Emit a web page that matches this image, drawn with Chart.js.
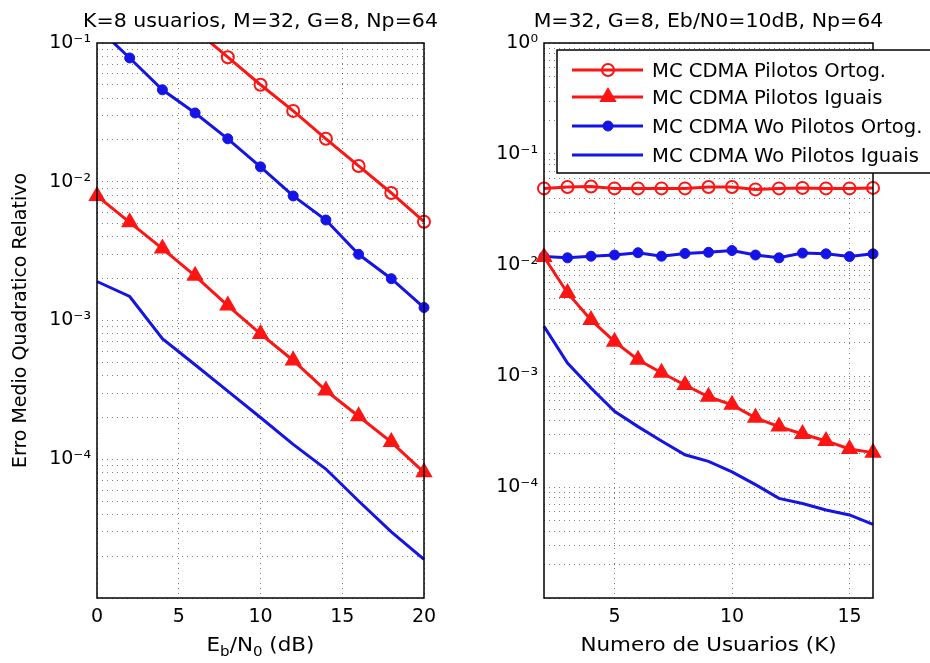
<!DOCTYPE html>
<html>
<head>
<meta charset="utf-8">
<script src="https://cdn.jsdelivr.net/npm/chart.js@4.4.1/dist/chart.umd.min.js"></script>
<style>
  body { margin: 0; background: #fff; }
  #wrap { position: relative; width: 930px; height: 663px; }
  canvas { position: absolute; top: 0; }
  #left { left: 0; }
  #right { left: 470px; }
</style>
</head>
<body>
<div id="wrap">
  <canvas id="left" width="470" height="663"></canvas>
  <canvas id="right" width="460" height="663"></canvas>
</div>
<script>
// ---- left panel: sweep of Eb/N0, K=8 users
var snrDb = [0, 2, 4, 6, 8, 10, 12, 14, 16, 18, 20];
var ortogSnr    = [null, null, null, 0.125, 0.079, 0.050, 0.0324, 0.0204, 0.0130, 0.0083, 0.00515];
var iguaisSnr   = [0.0079, 0.0051, 0.0033, 0.0021, 0.00128, 0.00080, 0.000515, 0.000313, 0.000204, 0.000133, 0.0000805];
var woOrtogSnr  = [0.13, 0.078, 0.046, 0.0313, 0.0204, 0.0128, 0.0079, 0.0053, 0.0030, 0.0020, 0.00124];
var woIguaisSnr = [0.00191, 0.00149, 0.00074, 0.00048, 0.00031, 0.00020, 0.000128, 0.000085, 0.00005, 0.00003, 0.000019];

// ---- right panel: sweep of number of users, Eb/N0=10dB
var users = [2, 3, 4, 5, 6, 7, 8, 9, 10, 11, 12, 13, 14, 15, 16];
var ortogK    = [0.049, 0.0505, 0.051, 0.049, 0.049, 0.049, 0.049, 0.0505, 0.0505, 0.048, 0.049, 0.0495, 0.049, 0.049, 0.0495];
var iguaisK   = [0.0118, 0.0056, 0.0032, 0.00204, 0.0014, 0.00107, 0.00083, 0.00065, 0.00055, 0.00042, 0.00035, 0.00030, 0.00026, 0.00022, 0.000204];
var woOrtogK  = [0.0119, 0.0116, 0.0120, 0.0123, 0.0129, 0.0120, 0.0127, 0.0130, 0.0135, 0.0123, 0.0116, 0.0128, 0.0126, 0.0119, 0.0126];
var woIguaisK = [0.0028, 0.00131, 0.00078, 0.00048, 0.00035, 0.00026, 0.000195, 0.00017, 0.000137, 0.000105, 0.000079, 0.000071, 0.000062, 0.000056, 0.000046];

// ---- axes
var leftDecades  = [1e-5, 1e-4, 1e-3, 1e-2, 1e-1];
var rightDecades = [1e-5, 1e-4, 1e-3, 1e-2, 1e-1, 1];
var snrTicks  = [0, 5, 10, 15, 20];
var userTicks = [5, 10, 15];

var labels = ['MC CDMA Pilotos Ortog.', 'MC CDMA Pilotos Iguais', 'MC CDMA Wo Pilotos Ortog.', 'MC CDMA Wo Pilotos Iguais'];

var RED = '#ff1414';
var BLUE = '#1414e6';
var FONT = 'DejaVu Sans';
var GRID = 'rgba(0,0,0,0.5)';

var styles = [
  { borderColor: RED, pointStyle: 'circle', pointRadius: 6, pointBorderWidth: 2, pointBackgroundColor: 'rgba(0,0,0,0)', pointBorderColor: RED },
  { borderColor: RED, pointStyle: 'triangle', pointRadius: 8, pointBorderWidth: 2, pointBackgroundColor: RED, pointBorderColor: RED },
  { borderColor: BLUE, pointStyle: 'circle', pointRadius: 5, pointBorderWidth: 1, pointBackgroundColor: BLUE, pointBorderColor: BLUE },
  { borderColor: BLUE, pointRadius: 0 }
];

function makeDatasets(xs, ysList) {
  return ysList.map(function (ys, i) {
    return Object.assign({
      label: labels[i],
      data: xs.map(function (x, j) { return { x: x, y: ys[j] }; }),
      borderWidth: 3,
      tension: 0,
      clip: { left: 12, right: 12, top: 0, bottom: 0 }
    }, styles[i]);
  });
}

function logTicks(decades) {
  var t = [];
  decades.forEach(function (d, i) {
    if (i === decades.length - 1) { t.push({ value: d }); return; }
    for (var m = 1; m < 10; m++) t.push({ value: m * d });
  });
  return t;
}

var sup = { '-': '\u207B', '0': '\u2070', '1': '\u00B9', '2': '\u00B2', '3': '\u00B3', '4': '\u2074', '5': '\u2075' };
// labels only on decades, the bottom one is left blank as in the figure
function powLabeller(decades) {
  return function (v) {
    var e = Math.log10(v);
    if (Math.abs(e - Math.round(e)) > 1e-6) return '';
    if (Math.abs(v - decades[0]) < decades[0] * 1e-6) return '';
    return '10' + String(Math.round(e)).split('').map(function (c) { return sup[c]; }).join('');
  };
}

// text stretched a bit horizontally, like the original figure
function wideText(ctx, parts, x, y, size, sx, align) {
  ctx.save();
  var w = 0;
  parts.forEach(function (p) { ctx.font = (p.sub ? size * 0.7 : size) + 'px "' + FONT + '"'; w += ctx.measureText(p.t).width; });
  ctx.translate(x, y);
  ctx.scale(sx, 1);
  var cx = align === 'center' ? -w / 2 : 0;
  ctx.fillStyle = '#000';
  ctx.textBaseline = 'alphabetic';
  ctx.textAlign = 'left';
  parts.forEach(function (p) {
    ctx.font = (p.sub ? size * 0.7 : size) + 'px "' + FONT + '"';
    ctx.fillText(p.t, cx, p.sub ? 5 : 0);
    cx += ctx.measureText(p.t).width;
  });
  ctx.restore();
}

function drawMarker(ctx, st, x, y) {
  var r = st.pointRadius;
  if (!r) return;
  ctx.beginPath();
  if (st.pointStyle === 'triangle') {
    ctx.moveTo(x, y - r);
    ctx.lineTo(x + r * Math.sqrt(3) / 2, y + r / 2);
    ctx.lineTo(x - r * Math.sqrt(3) / 2, y + r / 2);
    ctx.closePath();
  } else {
    ctx.arc(x, y, r, 0, Math.PI * 2);
  }
  ctx.fillStyle = st.pointBackgroundColor;
  ctx.fill();
  ctx.lineWidth = st.pointBorderWidth;
  ctx.strokeStyle = st.pointBorderColor;
  ctx.stroke();
}

var decor = {
  id: 'decor',
  afterDraw: function (chart, args, opts) {
    var ctx = chart.ctx, a = chart.chartArea;
    ctx.save();
    ctx.strokeStyle = '#000';
    ctx.lineWidth = 1.5;
    ctx.strokeRect(a.left, a.top, a.right - a.left, a.bottom - a.top);
    var cx = (a.left + a.right) / 2;
    wideText(ctx, [{ t: opts.title }], cx, 27, 19, 1.08, 'center');
    wideText(ctx, opts.xlabel, cx, 651, 19, 1.13, 'center');
    if (opts.ylabel) {
      ctx.save();
      ctx.translate(21, (a.top + a.bottom) / 2);
      ctx.rotate(-Math.PI / 2);
      ctx.font = '19px "' + FONT + '"';
      ctx.fillStyle = '#000';
      ctx.textAlign = 'center';
      ctx.textBaseline = 'middle';
      ctx.fillText(opts.ylabel, 0, 0);
      ctx.restore();
    }
    if (opts.legend) {
      var L = opts.legend;
      ctx.fillStyle = '#fff';
      ctx.fillRect(L.x, L.y, L.w, L.h);
      ctx.lineWidth = 1.5;
      ctx.strokeStyle = '#000';
      ctx.strokeRect(L.x, L.y, L.w, L.h);
      chart.data.datasets.forEach(function (ds, i) {
        var y = L.rows[i];
        ctx.beginPath();
        ctx.moveTo(L.x + 15, y);
        ctx.lineTo(L.x + 86, y);
        ctx.strokeStyle = ds.borderColor;
        ctx.lineWidth = 3;
        ctx.stroke();
        drawMarker(ctx, styles[i], L.x + 51, y);
        wideText(ctx, [{ t: ds.label }], L.x + 95, y + 7, 19, 1.03, 'left');
      });
    }
    ctx.restore();
  }
};

function axisOpts(extra) {
  var base = {
    grid: { color: GRID, lineWidth: 1, drawTicks: false },
    border: { display: false, dash: [1, 4] }
  };
  return Object.assign(base, extra);
}

function panel(id, xs, ys, xMin, xMax, xTicks, decades, yWidth, padRight, opts) {
  return new Chart(document.getElementById(id), {
    type: 'line',
    data: { datasets: makeDatasets(xs, ys) },
    plugins: [decor],
    options: {
      responsive: false,
      animation: false,
      layout: { padding: { top: 43, right: padRight, left: 0, bottom: 0 } },
      scales: {
        x: axisOpts({
          type: 'linear', min: xMin, max: xMax,
          afterBuildTicks: function (s) { s.ticks = xTicks.map(function (v) { return { value: v }; }); },
          afterFit: function (s) { s.height = 65; },
          ticks: { color: '#000', font: { family: FONT, size: 19 }, autoSkip: false, maxRotation: 0, padding: 8 }
        }),
        y: axisOpts({
          type: 'logarithmic', min: decades[0], max: decades[decades.length - 1],
          afterBuildTicks: function (s) { s.ticks = logTicks(decades); },
          afterFit: function (s) { s.width = yWidth; },
          ticks: { color: '#000', font: { family: FONT, size: 19 }, autoSkip: false, padding: 6, callback: powLabeller(decades) }
        })
      },
      plugins: {
        legend: { display: false },
        tooltip: { enabled: false },
        decor: opts
      }
    }
  });
}

panel('left', snrDb, [ortogSnr, iguaisSnr, woOrtogSnr, woIguaisSnr], 0, 20, snrTicks, leftDecades, 97, 46, {
  title: 'K=8 usuarios, M=32, G=8, Np=64',
  xlabel: [{ t: 'E' }, { t: 'b', sub: true }, { t: '/N' }, { t: '0', sub: true }, { t: ' (dB)' }],
  ylabel: 'Erro Medio Quadratico Relativo'
});

panel('right', users, [ortogK, iguaisK, woOrtogK, woIguaisK], 2, 16, userTicks, rightDecades, 74, 57, {
  title: 'M=32, G=8, Eb/N0=10dB, Np=64',
  xlabel: [{ t: 'Numero de Usuarios (K)' }],
  legend: { x: 87, y: 50, w: 380, h: 123, rows: [70, 97, 126, 155] }
});
</script>
</body>
</html>
